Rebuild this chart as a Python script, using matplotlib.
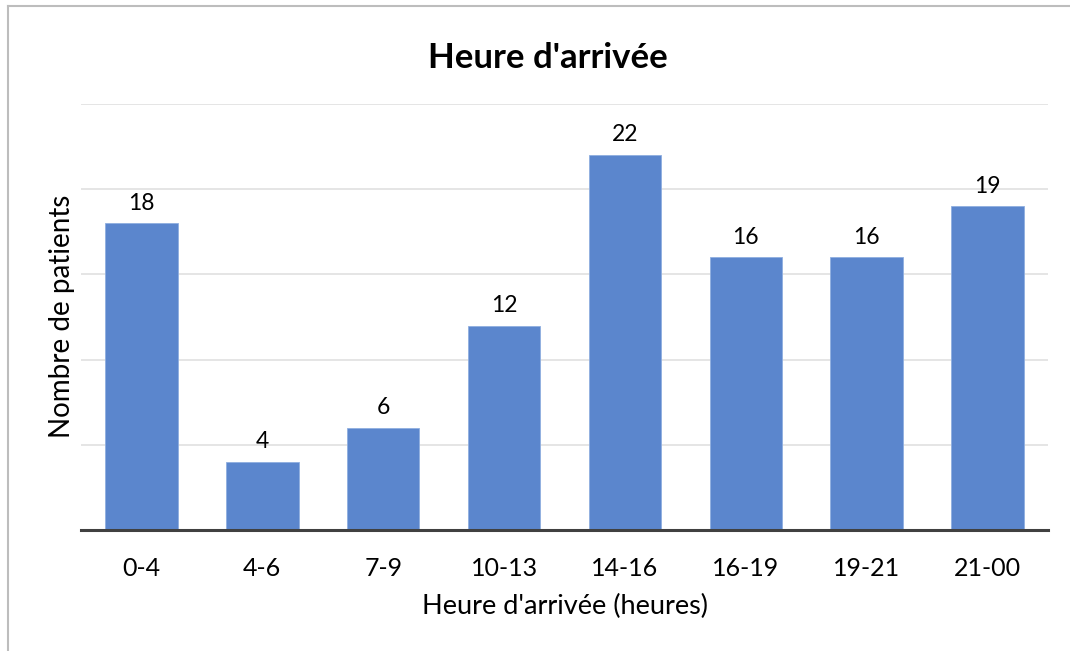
import matplotlib
matplotlib.use("Agg")
import matplotlib.pyplot as plt

plt.rcParams['font.family'] = ['Lato', 'DejaVu Sans']

categories = ["0-4", "4-6", "7-9", "10-13", "14-16", "16-19", "19-21", "21-00"]
values = [18, 4, 6, 12, 22, 16, 16, 19]

fig = plt.figure(figsize=(10.70, 6.51), dpi=100)
ax = fig.add_axes([81/1070, 1-530/651, (1048-81)/1070, (530-104)/651])

x = list(range(len(categories)))
ax.bar(x, values, width=0.6, color='#5B86CD', edgecolor='#8FAEE0', linewidth=0.6, zorder=3)
for xi, v in zip(x, values):
    ax.annotate(str(v), (xi, v), xytext=(0, 14.5), textcoords='offset points',
                ha='center', va='center', fontsize=16.5, color='#000000')

ax.set_xlim(-0.5, len(categories) - 0.5)
ax.set_ylim(0, 25)
ax.set_yticks([0, 5, 10, 15, 20, 25])
ax.yaxis.grid(True, color='#E3E3E3', linewidth=1.3, zorder=0)
ax.tick_params(axis='y', left=False, labelleft=False)
ax.tick_params(axis='x', bottom=False, labelsize=18, pad=16)
ax.set_xticks(x)
ax.set_xticklabels(categories)
for s in ['top', 'right', 'left']:
    ax.spines[s].set_visible(False)
ax.spines['bottom'].set_color('#404040')
ax.spines['bottom'].set_linewidth(2.2)
ax.spines['bottom'].set_zorder(4)

ax.set_xlabel("Heure d'arrivée (heures)", fontsize=19.5, va='center')
ax.xaxis.set_label_coords(0.5, (530-606)/426)
ax.set_ylabel("Nombre de patients", fontsize=20, va='center')
ax.yaxis.set_label_coords((62-81)/967, 0.5 + (530-316-213)/426)
fig.text(548/1070, 1-58/651, "Heure d'arrivée", ha='center', va='center',
         fontsize=25, fontweight='bold')

# figure border (left and top visible)
fig.add_artist(plt.Line2D([8/1070, 8/1070], [0, 1-6/651], transform=fig.transFigure,
                          color='#BDBDBD', linewidth=1.5))
fig.add_artist(plt.Line2D([8/1070, 1], [1-6/651, 1-6/651], transform=fig.transFigure,
                          color='#BDBDBD', linewidth=1.5))

fig.savefig("out.png", dpi=100)
